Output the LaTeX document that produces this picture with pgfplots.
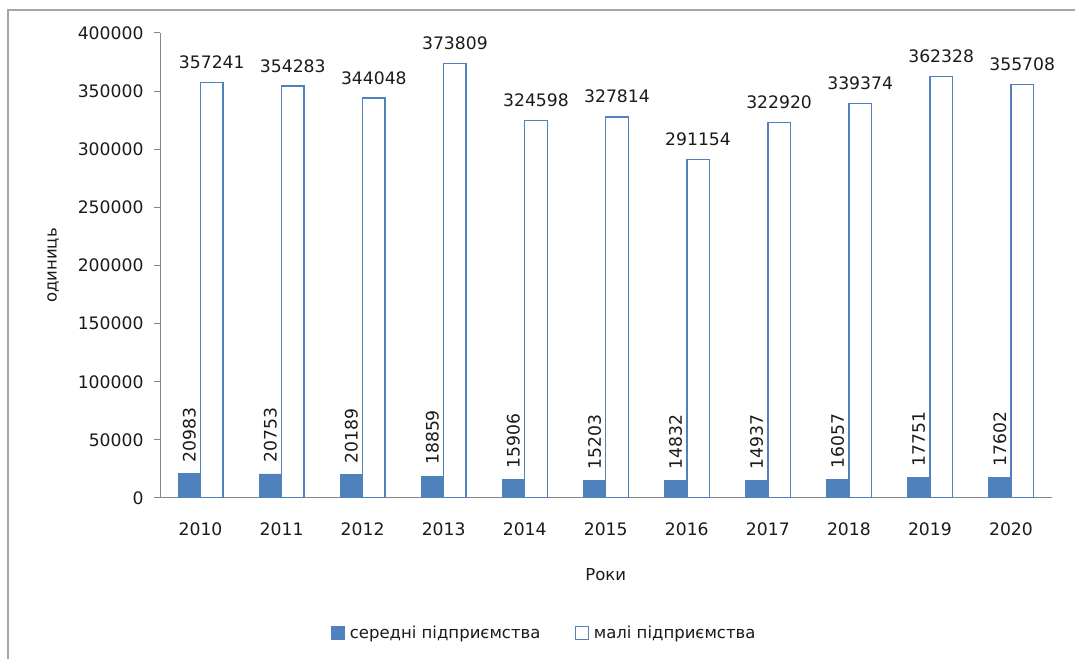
\documentclass[border=0pt]{standalone}
\usepackage{pgfplots}
\usepackage{pgfplotstable}
\pgfplotsset{compat=1.18}
\usepackage{fontspec}
\setmainfont{DejaVu Sans}
\definecolor{barblue}{HTML}{4F81BD}
\definecolor{axgray}{HTML}{868686}
\definecolor{framegray}{HTML}{A6A6A6}
\definecolor{txt}{HTML}{1A1A1A}
\newcommand\chartfont{\fontsize{16.5pt}{19pt}\selectfont}
\newcommand\numfont{\fontsize{17.2pt}{20pt}\selectfont}
\pgfplotstableread{
x y
0 20983
1 20753
2 20189
3 18859
4 15906
5 15203
6 14832
7 14937
8 16057
9 17751
10 17602
}\mediumtab
\pgfplotstableread{
x y
0 357241
1 354283
2 344048
3 373809
4 324598
5 327814
6 291154
7 322920
8 339374
9 362328
10 355708
}\smalltab
\begin{document}
\begin{tikzpicture}
\path[use as bounding box] (0pt,0pt) rectangle (1075pt,658pt);
\draw[framegray, line width=1.5pt] (8pt,-5pt) -- (8pt,648pt) -- (1080pt,648pt);
\begin{axis}[
  at={(160pt,160pt)}, anchor=south west,
  scale only axis, width=891.5pt, height=465pt,
  xmin=-0.5, xmax=10.5, ymin=0, ymax=400000,
  enlarge x limits=false,
  ybar=0pt, bar width=22.5pt,
  axis x line*=bottom, axis y line*=left,
  axis line style={axgray, line width=1pt, -},
  tick align=outside,
  major tick length=6pt,
  tick style={axgray, line width=1pt},
  xtick={0,...,10},
  xticklabels={2010,2011,2012,2013,2014,2015,2016,2017,2018,2019,2020},
  xtick style={draw=none},
  extra x ticks={-0.5,0.5,...,10.5},
  extra x tick labels={},
  extra x tick style={tick style={axgray, line width=1pt}, major tick length=6pt},
  ytick={0,50000,...,400000},
  scaled y ticks=false,
  /pgf/number format/fixed,
  /pgf/number format/set thousands separator={},
  /pgf/number format/assume math mode=true,
  tick label style={font=\numfont, text=txt},
  xticklabel style={yshift=-15pt},
  yticklabel style={xshift=-7pt},
  xlabel={Роки}, ylabel={одиниць},
  label style={font=\chartfont, text=txt},
  xlabel style={at={(axis description cs:0.5,0)}, anchor=center, yshift=-77pt},
  ylabel style={at={(axis description cs:-0.12,0.5)}, anchor=center},
  nodes near coords,
  point meta=explicit symbolic,
  nodes near coords style={font=\numfont, text=txt},
  legend columns=2,
  legend style={draw=none, fill=none, font=\chartfont, text=txt,
    at={(axis description cs:0.431,-0.29)}, anchor=center,
    /tikz/every even column/.append style={column sep=32pt}},
  legend image code/.code={\draw[#1, line width=1.2pt] (0pt,-6.5pt) rectangle (13pt,6.5pt); \path (16pt,0pt);},
]
\addplot[fill=barblue, draw=barblue, line width=0.6pt,
  nodes near coords style={rotate=90, anchor=west, inner xsep=11pt}]
  table[x=x, y=y, meta=y] {\mediumtab};
\addplot[fill=white, draw=barblue, line width=1.4pt,
  nodes near coords style={anchor=south, inner ysep=13pt}]
  table[x=x, y=y, meta=y] {\smalltab};
\legend{середні підприємства, малі підприємства}
\end{axis}
\end{tikzpicture}
\end{document}
